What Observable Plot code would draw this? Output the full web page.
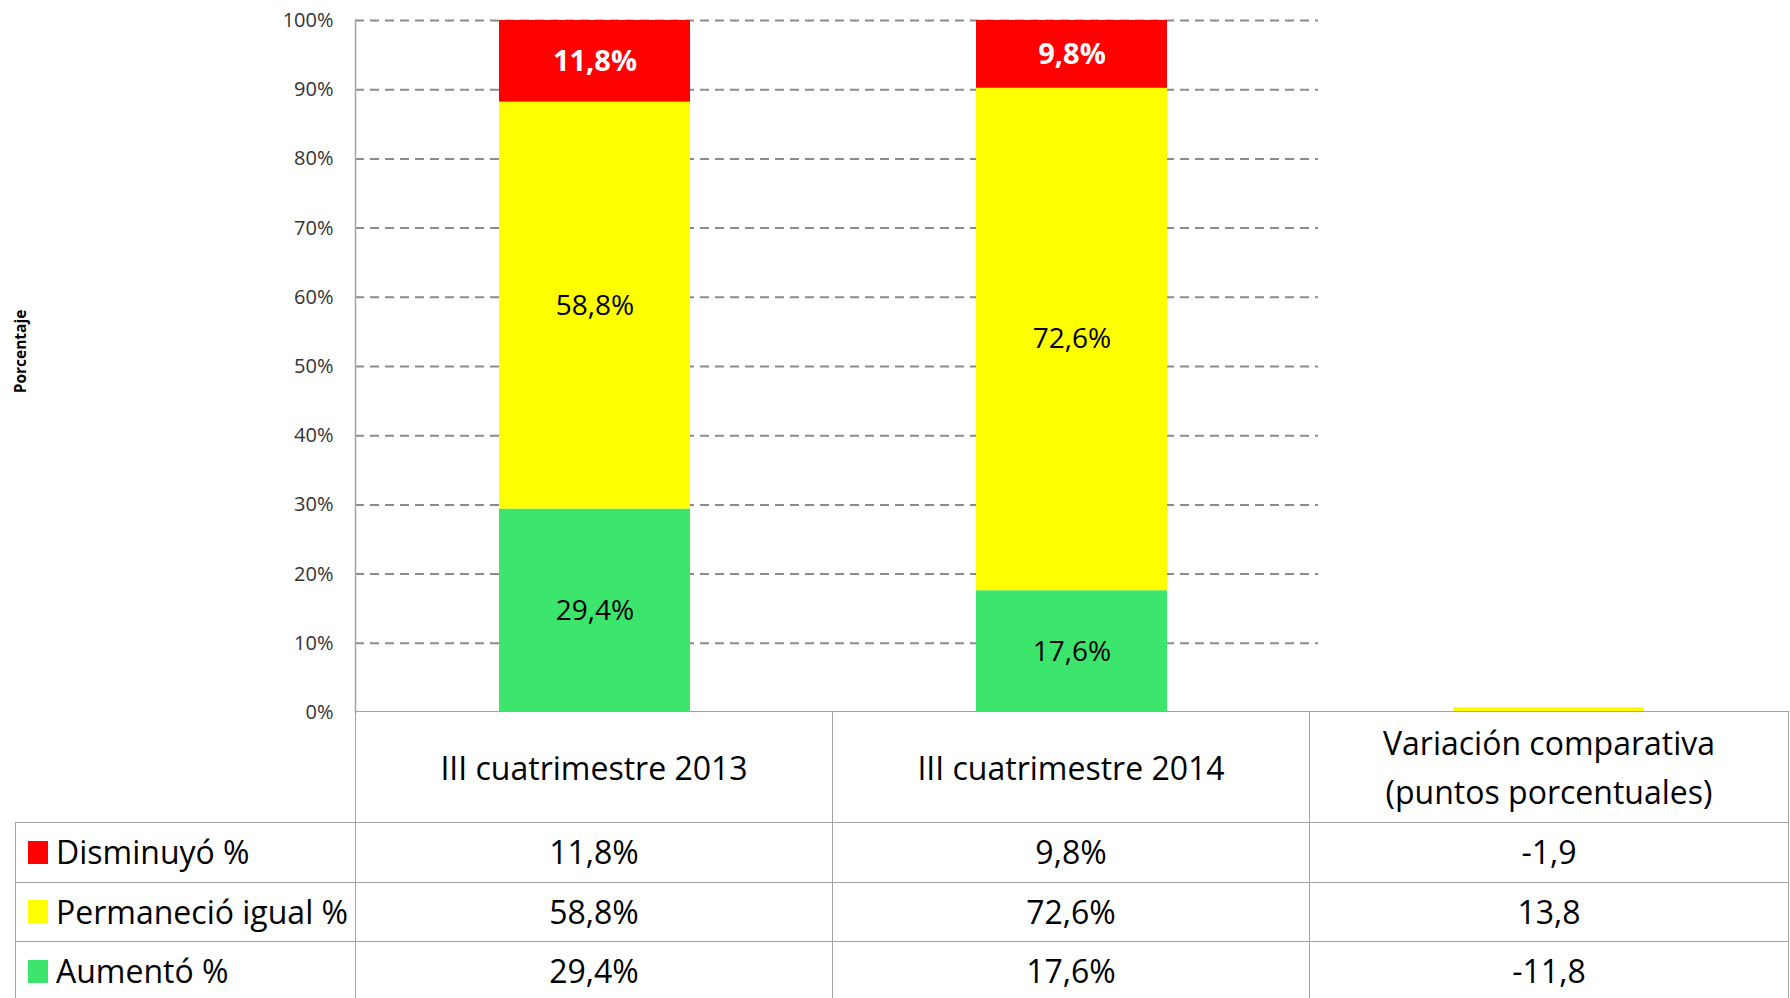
<!DOCTYPE html>
<html>
<head>
<meta charset="utf-8">
<script src="https://cdn.jsdelivr.net/npm/d3@7"></script>
<script src="https://cdn.jsdelivr.net/npm/@observablehq/plot@0.6"></script>
<style>
  html, body { margin: 0; padding: 0; background: #fff; }
  #wrap { position: relative; width: 1790px; height: 998px; overflow: hidden; font-family: "Open Sans", sans-serif; }
  #chart { position: absolute; left: 0; top: 0; }
  #tbl { position: absolute; left: 15px; top: 711px; width: 1773px; border-collapse: collapse; table-layout: fixed;
         font-family: "Open Sans", sans-serif; font-size: 32px; color: #000; }
  #tbl td { border: 1.5px solid #a3a3a3; padding: 0; text-align: center; vertical-align: middle; white-space: nowrap; }
  #tbl tr.head td { height: 110px; line-height: 49px; }
  #tbl tr.data td { height: 58.5px; line-height: 40px; }
  #tbl td.corner { border-top: none; border-left: none; }
  #tbl td.name { text-align: left; }
  #tbl td.name .lab { display: flex; align-items: center; }
  #tbl .key { display: inline-block; width: 20px; height: 23px; margin-left: 12px; margin-right: 8px; }
</style>
</head>
<body>
<div id="wrap">
  <div id="chart"></div>
  <table id="tbl">
    <colgroup><col style="width:340px"><col style="width:477px"><col style="width:477px"><col style="width:479px"></colgroup>
    <tbody></tbody>
  </table>
</div>
<script>
// ---- data ----
const categories = ["III cuatrimestre 2013", "III cuatrimestre 2014", "Variación comparativa (puntos porcentuales)"];
const series = ["Disminuyó %", "Permaneció igual %", "Aumentó %"];
const disminuyo = [11.8, 9.8, -1.9];
const permanecioIgual = [58.8, 72.6, 13.8];
const aumento = [29.4, 17.6, -11.8];
// heights visible in the chart for the "Variación comparativa" column (Disminuyó, Permaneció, Aumentó)
const variacionBarras = [0, 0.7, 0];
const yTicks = [0, 10, 20, 30, 40, 50, 60, 70, 80, 90, 100];

// ---- styling constants ----
const seriesColors = ["#ff0000", "#ffff00", "#3ce66c"];

const fmtNum = v => v.toFixed(1).replace(".", ",");
const fmtPct = v => fmtNum(v) + "%";

const valuesBySeries = [disminuyo, permanecioIgual, aumento];
const rows = [];
for (let c = 0; c < categories.length; c++) {
  for (const s of [2, 1, 0]) { // stack bottom -> top: Aumentó, Permaneció, Disminuyó
    const shown = valuesBySeries[s][c];
    rows.push({cat: categories[c], ci: c, series: series[s], si: s,
               value: c < 2 ? shown : variacionBarras[s], shown});
  }
}

const chart = Plot.plot({
  width: 1790,
  height: 998,
  marginTop: 20,
  marginBottom: 286,
  marginLeft: 355,
  marginRight: 2,
  style: {fontFamily: "Open Sans, sans-serif", background: "transparent", overflow: "visible"},
  x: {domain: categories, paddingInner: 0.6, paddingOuter: 0.3, axis: null},
  y: {domain: [0, 100]},
  color: {domain: series, range: seriesColors},
  marks: [
    Plot.ruleY(yTicks.filter(d => d > 0), {stroke: "#8c8c8c", strokeWidth: 2, strokeDasharray: "9,6", insetRight: 470}),
    Plot.frame({anchor: "left", stroke: "#a3a3a3", strokeWidth: 1.5}),
    Plot.barY(rows, {x: "cat", y: "value", fill: "series"}),
    Plot.axisY({ticks: yTicks, tickSize: 0, tickPadding: 22, tickFormat: d => d + "%", fontSize: 20, label: null, color: "#333"}),
    Plot.text(rows, Plot.stackY({x: "cat", y: "value", z: "series",
      text: d => (d.ci < 2 && d.si !== 0) ? fmtPct(d.shown) : "",
      fontSize: 28, fill: "#000"})),
    Plot.text(rows, Plot.stackY({x: "cat", y: "value", z: "series",
      text: d => (d.ci < 2 && d.si === 0) ? fmtPct(d.shown) : "",
      fontSize: 29, fontWeight: "bold", fill: "#fff"})),
    Plot.text(["Porcentaje"], {frameAnchor: "left", textAnchor: "middle", rotate: -90, dx: -334, dy: -15,
      fontWeight: "bold", fontSize: 15.5, fill: "#000"})
  ]
});
document.getElementById("chart").appendChild(chart);

// ---- data table below the chart ----
const tbody = document.querySelector("#tbl tbody");
const head = document.createElement("tr");
head.className = "head";
const corner = document.createElement("td");
corner.className = "corner";
head.appendChild(corner);
categories.forEach(c => {
  const td = document.createElement("td");
  const parts = c.split(" (");
  td.innerHTML = parts.length > 1 ? parts[0] + "<br>(" + parts[1] : c;
  head.appendChild(td);
});
tbody.appendChild(head);

series.forEach((s, si) => {
  const tr = document.createElement("tr");
  tr.className = "data";
  const name = document.createElement("td");
  name.className = "name";
  const lab = document.createElement("div");
  lab.className = "lab";
  const key = document.createElement("span");
  key.className = "key";
  key.style.background = seriesColors[si];
  lab.appendChild(key);
  lab.appendChild(document.createTextNode(s));
  name.appendChild(lab);
  tr.appendChild(name);
  valuesBySeries[si].forEach((v, ci) => {
    const td = document.createElement("td");
    td.textContent = ci < 2 ? fmtPct(v) : fmtNum(v);
    tr.appendChild(td);
  });
  tbody.appendChild(tr);
});
</script>
</body>
</html>
